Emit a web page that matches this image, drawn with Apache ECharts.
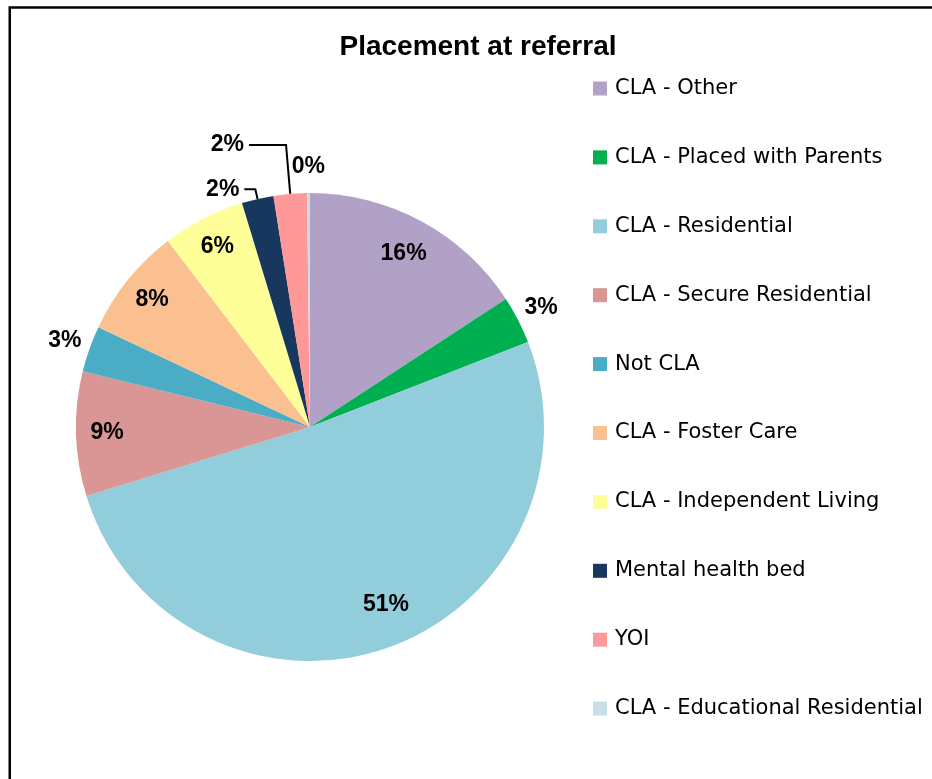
<!DOCTYPE html>
<html>
<head>
<meta charset="utf-8">
<title>Placement at referral</title>
<script src="https://cdn.jsdelivr.net/npm/echarts@6/dist/echarts.min.js"></script>
<style>
  html, body { margin: 0; padding: 0; background: #fff; overflow: hidden; }
  #chart { width: 932px; height: 779px; }
</style>
</head>
<body>
<div id="chart"></div>
<script>
// data (share of referrals, %)
const categories = [
  'CLA - Other',
  'CLA - Placed with Parents',
  'CLA - Residential',
  'CLA - Secure Residential',
  'Not CLA',
  'CLA - Foster Care',
  'CLA - Independent Living',
  'Mental health bed',
  'YOI',
  'CLA - Educational Residential'
]
const shares = [15.8, 3.3, 51.2, 8.6, 3.2, 7.6, 5.7, 2.2, 2.3, 0.2]

// styling
const sliceColors = ['#b2a1c7', '#00b050', '#92cddc', '#d99694', '#4bacc6',
  '#fac090', '#ffff99', '#17375e', '#ff9999', '#c9dde6']
// where each slice's label goes: 'mid' = inside, 'far' = just outside, 'leader' = with a leader line
const labelPlacement = ['mid', 'far', 'mid', 'mid', 'far', 'mid', 'mid', 'leader', 'leader', 'far']
const leaderLines = {
  'Mental health bed': { length: 10, length2: 11, lift: 12 },
  'YOI': { length: 49, length2: 37, lift: 8 }
}
// small nudges so labels sit where Excel's "best fit" put them
const labelNudge = {
  'CLA - Residential': [9, -14],
  'CLA - Other': [-3, 5]
}

const pieCenter = [310, 427]
const pieRadius = 234

const labelFont = {
  fontFamily: 'Liberation Sans',
  fontWeight: 'bold',
  fontSize: 23,
  color: '#000'
}

const pctLabel = p => Math.round(p.percent) + '%'

const mainData = categories.map((name, i) => {
  const leader = leaderLines[name]
  const item = { name: name, value: shares[i], itemStyle: { color: sliceColors[i] } }
  if (leader) {
    item.label = { show: true, position: 'outside', distanceToLabelLine: 5, padding: [0, 0, leader.lift, 0] }
    item.labelLine = { show: true, length: leader.length, length2: leader.length2 }
  } else {
    item.label = { show: false }
    item.labelLine = { show: false }
  }
  return item
})

// invisible copies of the pie, only used to place the labels further out
function labelRing (outer, kind) {
  return {
    type: 'pie',
    center: pieCenter,
    radius: [0, outer],
    startAngle: 90,
    silent: true,
    z: 3,
    emphasis: { disabled: true },
    tooltip: { show: false },
    itemStyle: { color: 'rgba(0,0,0,0)', borderWidth: 0 },
    labelLine: { show: false },
    label: Object.assign({ position: 'inside', formatter: pctLabel }, labelFont),
    data: categories.map((name, i) => ({
      name: name,
      value: shares[i],
      label: { show: labelPlacement[i] === kind, offset: labelNudge[name] || [0, 0] }
    }))
  }
}

const option = {
  backgroundColor: '#fff',
  animation: false,
  title: {
    text: 'Placement at referral',
    left: 478,
    top: 33,
    padding: 0,
    textAlign: 'center',
    textStyle: {
      fontFamily: 'Liberation Sans',
      fontWeight: 'bold',
      fontSize: 28,
      color: '#000'
    }
  },
  legend: {
    orient: 'vertical',
    left: 593,
    top: 78,
    padding: 0,
    itemWidth: 14,
    itemHeight: 14,
    itemGap: 47.9,
    icon: 'rect',
    selectedMode: false,
    data: categories,
    textStyle: {
      fontFamily: 'DejaVu Sans',
      fontSize: 21,
      lineHeight: 20,
      color: '#000',
      padding: [0, 0, 0, 3]
    }
  },
  graphic: [{
    type: 'rect',
    silent: true,
    shape: { x: 9.75, y: 7.5, width: 1000, height: 1000 },
    style: { fill: 'none', stroke: '#000', lineWidth: 2.5 }
  }],
  series: [
    {
      type: 'pie',
      name: 'Placement at referral',
      center: pieCenter,
      radius: pieRadius,
      startAngle: 90,
      clockwise: true,
      avoidLabelOverlap: false,
      itemStyle: { borderWidth: 0 },
      label: Object.assign({ formatter: pctLabel }, labelFont),
      labelLine: { lineStyle: { color: '#000', width: 2 } },
      emphasis: { scale: false },
      data: mainData
    },
    labelRing(400, 'mid'),
    labelRing(514, 'far')
  ]
}

const chart = echarts.init(document.getElementById('chart'))
chart.setOption(option)
</script>
</body>
</html>
